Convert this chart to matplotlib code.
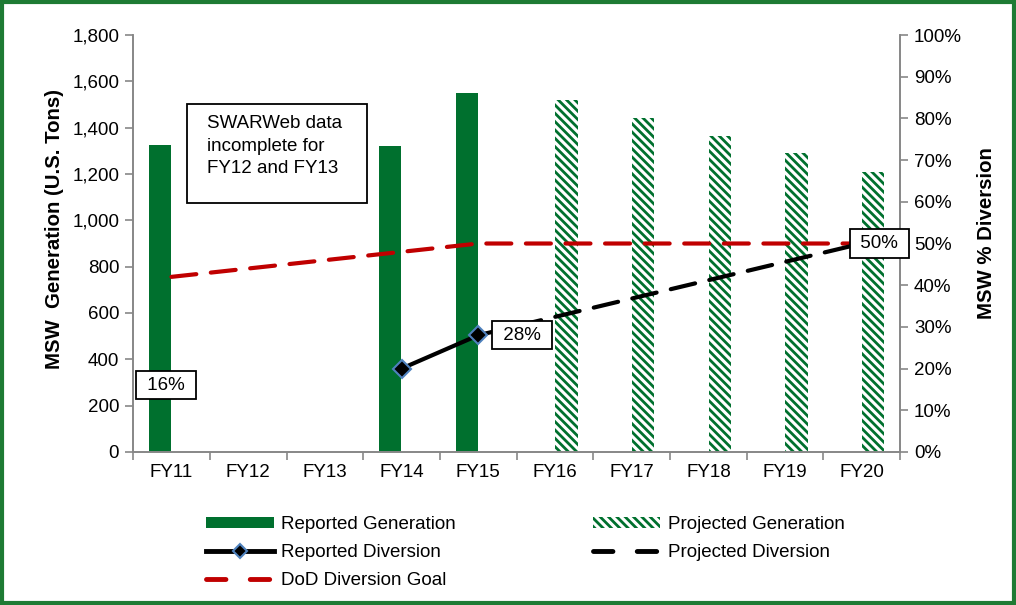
import numpy as np
import matplotlib
matplotlib.use("Agg")
from matplotlib import pyplot as plt
from matplotlib.patches import Rectangle
from matplotlib.lines import Line2D
from matplotlib.patches import Patch
from matplotlib.ticker import FuncFormatter, FixedLocator

plt.rcParams['font.family'] = ['Liberation Sans', 'DejaVu Sans']
plt.rcParams['hatch.linewidth'] = 2.0

# data
years = ["FY11", "FY12", "FY13", "FY14", "FY15", "FY16", "FY17", "FY18", "FY19", "FY20"]
reported_gen = [1325, np.nan, np.nan, 1320, 1550, np.nan, np.nan, np.nan, np.nan, np.nan]
projected_gen = [np.nan, np.nan, np.nan, np.nan, np.nan, 1520, 1440, 1365, 1290, 1210]
reported_div = [16, np.nan, np.nan, 20, 28, np.nan, np.nan, np.nan, np.nan, np.nan]
projected_div = [np.nan, np.nan, np.nan, np.nan, 28, 32.4, 36.8, 41.2, 45.6, 50]
dod_goal = [42, 44, 46, 48, 50, 50, 50, 50, 50, 50]
labels = {0: "16%", 4: "28%", 9: "50%"}

green = '#00702E'
red = '#C00000'
gray = '#878787'
fs = 13.5

fig = plt.figure(figsize=(10.16, 6.05), dpi=100)
fig.patches.append(Rectangle((0.002, 0.003), 0.996, 0.994, transform=fig.transFigure,
                             fill=False, edgecolor='#1E7B34', linewidth=3))

ax = fig.add_axes([0.131, 0.253, 0.755, 0.689])
ax2 = ax.twinx()

x = np.arange(len(years))
w = 0.29
ax.bar(x - 0.15, reported_gen, width=w, color=green, linewidth=0)
ax.bar(x + 0.15, projected_gen, width=w, facecolor='white', edgecolor=green,
       hatch='\\\\\\\\', linewidth=0)

ax.set_ylim(0, 1800)
ax.set_yticks(np.arange(0, 1801, 200))
ax.yaxis.set_major_formatter(FuncFormatter(lambda v, p: "{:,.0f}".format(v)))
ax.set_xlim(-0.5, 9.5)
ax.set_xticks(x)
ax.set_xticklabels(years)
ax.xaxis.set_minor_locator(FixedLocator(np.arange(-0.5, 10, 1)))
ax.tick_params(axis='x', which='major', length=0, pad=9, labelsize=fs)
ax.tick_params(axis='x', which='minor', length=6, color=gray, width=1.2)
ax.tick_params(axis='y', length=6, color=gray, width=1.2, labelsize=fs, pad=4)
ax.set_ylabel("MSW  Generation (U.S. Tons)", fontsize=14.7, fontweight='bold')
ax.yaxis.set_label_coords(-0.09, 0.535)

ax2.set_ylim(0, 100)
ax2.set_yticks(np.arange(0, 101, 10))
ax2.yaxis.set_major_formatter(FuncFormatter(lambda v, p: "{:.0f}%".format(v)))
ax2.tick_params(axis='y', length=6, color=gray, width=1.2, labelsize=fs, pad=4)
ax2.set_ylabel("MSW % Diversion", fontsize=14.7, fontweight='bold')
ax2.yaxis.set_label_coords(1.100, 0.525)

for a in (ax, ax2):
    a.spines['top'].set_visible(False)
    for s in ('left', 'right', 'bottom'):
        a.spines[s].set_color(gray)
        a.spines[s].set_linewidth(1.2)

ax2.plot(x, dod_goal, color=red, lw=3, dashes=(6, 3.5), dash_capstyle='round')
ax2.plot(x, projected_div, color='black', lw=3, dashes=(6, 3.5), dash_capstyle='round')
ax2.plot(x, reported_div, color='black', lw=3, marker='D', markersize=9,
         markerfacecolor='black', markeredgecolor='#4F81BD', markeredgewidth=1.5)

box = dict(boxstyle='square,pad=0.3', facecolor='white', edgecolor='black', linewidth=1.3)
offsets = {0: -0.07, 4: 0.57, 9: 0.23}
for i, txt in labels.items():
    val = reported_div[i] if not np.isnan(reported_div[i]) else projected_div[i]
    ax2.text(x[i] + offsets[i], val, " " + txt + " ", fontsize=fs, ha='center', va='center',
             bbox=box, zorder=10, clip_on=False)

# note box
ax.add_patch(Rectangle((0.204, 1075), 2.35, 427, facecolor='white', edgecolor='black',
                       linewidth=1.3, zorder=9))
ax.text(0.465, 1321, "SWARWeb data\nincomplete for\nFY12 and FY13", fontsize=fs,
        ha='left', va='center', linespacing=1.4, zorder=10)

handles = [
    Patch(facecolor=green, edgecolor='none'),
    Line2D([], [], color='black', lw=3.5, marker='D', markersize=7,
           markerfacecolor='black', markeredgecolor='#4F81BD', markeredgewidth=1.5),
    Line2D([], [], color=red, lw=3.5, dashes=(4, 5), dash_capstyle='round'),
    Patch(facecolor='white', edgecolor=green, hatch='\\\\\\\\', linewidth=0),
    Line2D([], [], color='black', lw=3.5, dashes=(4, 5), dash_capstyle='round'),
]
names = ["Reported Generation", "Reported Diversion", "DoD Diversion Goal",
         "Projected Generation", "Projected Diversion"]
fig.legend(handles, names, loc='center', bbox_to_anchor=(0.517, 0.087), ncol=2,
           frameon=False, fontsize=fs, handlelength=3.6, handleheight=0.5,
           columnspacing=7.3, labelspacing=0.58, handletextpad=0.4)

fig.savefig("out.png", dpi=100)
